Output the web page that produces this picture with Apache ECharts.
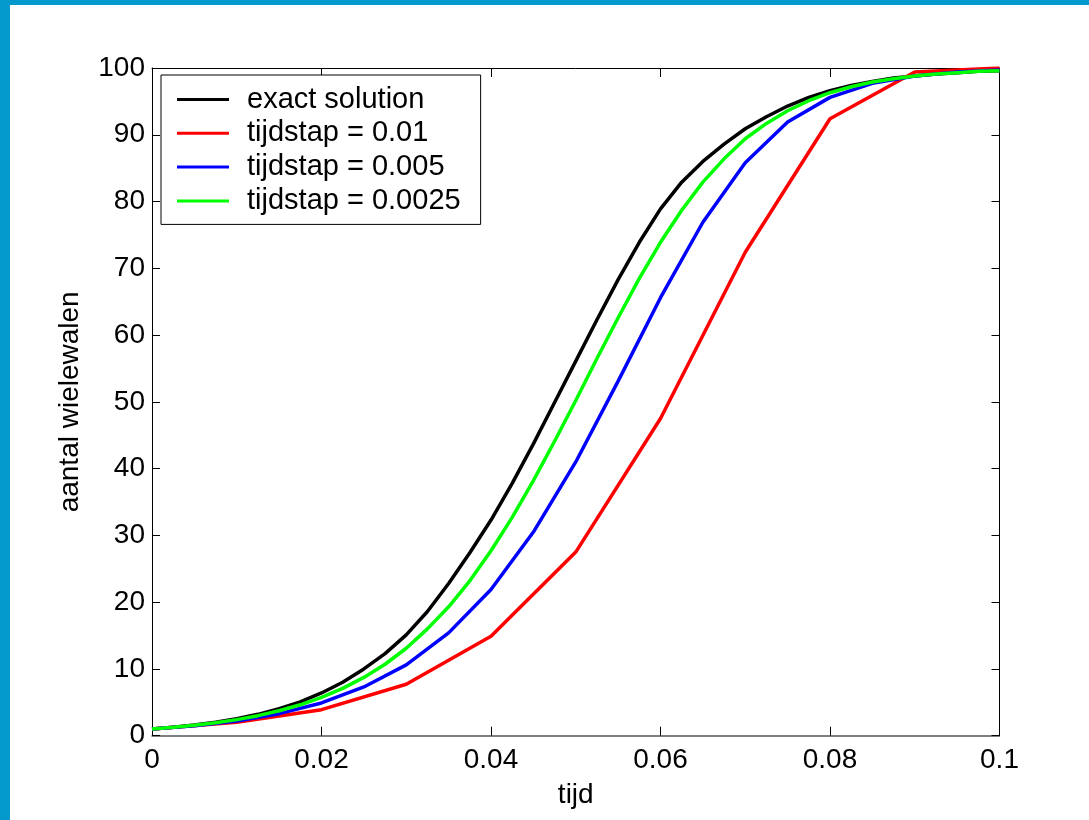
<!DOCTYPE html>
<html>
<head>
<meta charset="utf-8">
<script src="https://cdn.jsdelivr.net/npm/echarts@6/dist/echarts.min.js"></script>
<style>
html,body{margin:0;padding:0;background:#fff;}
#c{width:1089px;height:820px;}
</style>
</head>
<body>
<div id="c"></div>
<script>
// ---- data ----
const seriesNames = ['exact solution', 'tijdstap = 0.01', 'tijdstap = 0.005', 'tijdstap = 0.0025'];

const tFine = [0,0.0025,0.005,0.0075,0.01,0.0125,0.015,0.0175,0.02,0.0225,0.025,0.0275,0.03,0.0325,0.035,0.0375,0.04,0.0425,0.045,0.0475,0.05,0.0525,0.055,0.0575,0.06,0.0625,0.065,0.0675,0.07,0.0725,0.075,0.0775,0.08,0.0825,0.085,0.0875,0.09,0.0925,0.095,0.0975,0.1];
const tMid = [0,0.005,0.01,0.015,0.02,0.025,0.03,0.035,0.04,0.045,0.05,0.055,0.06,0.065,0.07,0.075,0.08,0.085,0.09,0.095,0.1];
const tCoarse = [0,0.01,0.02,0.03,0.04,0.05,0.06,0.07,0.08,0.09,0.1];

const exactValues = [1.0,1.26,1.6,2.03,2.55,3.2,4.05,5.05,6.4,8.0,10.0,12.3,15.1,18.6,22.8,27.4,32.3,37.8,43.7,49.9,56.1,62.3,68.3,73.9,78.9,82.9,86.0,88.6,90.9,92.7,94.3,95.6,96.6,97.4,98.0,98.5,98.8,99.1,99.3,99.5,99.6];
const step001Values = [1.0,2.0,3.9,7.7,14.9,27.5,47.5,72.4,92.4,99.4,100.0];
const step0005Values = [1.0,1.5,2.2,3.3,4.9,7.3,10.6,15.4,21.9,30.5,41.0,53.1,65.6,76.9,85.8,91.9,95.6,97.7,98.8,99.4,99.7];
const step00025Values = [1.0,1.25,1.56,1.94,2.41,3.0,3.73,4.63,5.73,7.08,8.73,10.7,13.1,16.0,19.3,23.2,27.7,32.7,38.2,44.1,50.2,56.5,62.6,68.5,73.9,78.7,82.9,86.4,89.4,91.7,93.6,95.1,96.3,97.2,97.9,98.4,98.8,99.1,99.3,99.5,99.6];

const xTickLabels = ['0','0.02','0.04','0.06','0.08','0.1'];
const yTickLabels = ['0','10','20','30','40','50','60','70','80','90','100'];

const colors = ['#000000', '#ff0000', '#0000ff', '#00ff00'];

function pairs(ts, vs){ return ts.map((t,i)=>[t, vs[i]]); }

const chart = echarts.init(document.getElementById('c'), null, {renderer:'canvas'});
const font = 'Liberation Sans, Arial, Helvetica, sans-serif';
const gridBox = {left:152, right:89.5, top:68, bottom:84.3};

const xFmt = v => xTickLabels[Math.round(v/0.02)] ?? '';
const yFmt = v => yTickLabels[Math.round(v/10)] ?? '';

function mkSeries(i, data){
  return {
    name: seriesNames[i], type:'line', data: data, showSymbol:false, symbol:'none',
    smooth:false, animation:false, xAxisIndex:0, yAxisIndex:0,
    lineStyle:{color:colors[i], width:3.5}, itemStyle:{color:colors[i]}, z: 2+i
  };
}

chart.setOption({
  animation:false,
  backgroundColor:'#ffffff',
  textStyle:{fontFamily:font},
  grid: Object.assign({containLabel:false}, gridBox),
  graphic:[
    {type:'rect', shape:{x:0,y:0,width:1089,height:5}, style:{fill:'#0399cc'}, silent:true, z:100},
    {type:'rect', shape:{x:0,y:0,width:10,height:820}, style:{fill:'#0399cc'}, silent:true, z:100}
  ],
  legend:{
    show:true, orient:'vertical', left:161, top:75,
    data: seriesNames.map((n,i)=>({name:n, icon:'path://M0,0 L52,0 L52,3 L0,3 Z', itemStyle:{color:colors[i]}})),
    itemWidth:52, itemHeight:3, itemGap:4.8,
    padding:[10,20,9,16],
    backgroundColor:'#ffffff', borderColor:'#000000', borderWidth:1, borderRadius:0,
    textStyle:{fontSize:29, color:'#000', fontFamily:font, padding:[0,0,0,13], lineHeight:29},
    selectedMode:false
  },
  xAxis:[
    {type:'value', position:'bottom', min:0, max:0.1, interval:0.02,
     name:'tijd', nameLocation:'middle', nameGap:46,
     nameTextStyle:{fontSize:28, color:'#000', fontFamily:font},
     axisLine:{show:true, onZero:false, lineStyle:{color:'#555', width:1.5}},
     axisTick:{show:true, inside:true, length:9, lineStyle:{color:'#000', width:1}},
     axisLabel:{show:true, fontSize:28, color:'#000', margin:11, formatter:xFmt, fontFamily:font},
     splitLine:{show:false}},
    {type:'value', position:'top', min:0, max:0.1, interval:0.02,
     axisLine:{show:true, onZero:false, lineStyle:{color:'#000', width:1}},
     axisTick:{show:true, inside:true, length:9, lineStyle:{color:'#000', width:1}},
     axisLabel:{show:false}, splitLine:{show:false}}
  ],
  yAxis:[
    {type:'value', position:'left', min:0, max:100, interval:10,
     name:'aantal wielewalen', nameLocation:'middle', nameGap:68, nameRotate:90,
     nameTextStyle:{fontSize:28, color:'#000', fontFamily:font},
     axisLine:{show:true, onZero:false, lineStyle:{color:'#000', width:1}},
     axisTick:{show:true, inside:true, length:8, lineStyle:{color:'#000', width:1}},
     axisLabel:{show:true, fontSize:28, color:'#000', margin:7, formatter:yFmt, fontFamily:font},
     splitLine:{show:false}},
    {type:'value', position:'right', min:0, max:100, interval:10,
     axisLine:{show:true, onZero:false, lineStyle:{color:'#000', width:1}},
     axisTick:{show:true, inside:true, length:8, lineStyle:{color:'#000', width:1}},
     axisLabel:{show:false}, splitLine:{show:false}}
  ],
  series:[
    mkSeries(0, pairs(tFine, exactValues)),
    mkSeries(1, pairs(tCoarse, step001Values)),
    mkSeries(2, pairs(tMid, step0005Values)),
    mkSeries(3, pairs(tFine, step00025Values))
  ]
});
</script>
</body>
</html>
